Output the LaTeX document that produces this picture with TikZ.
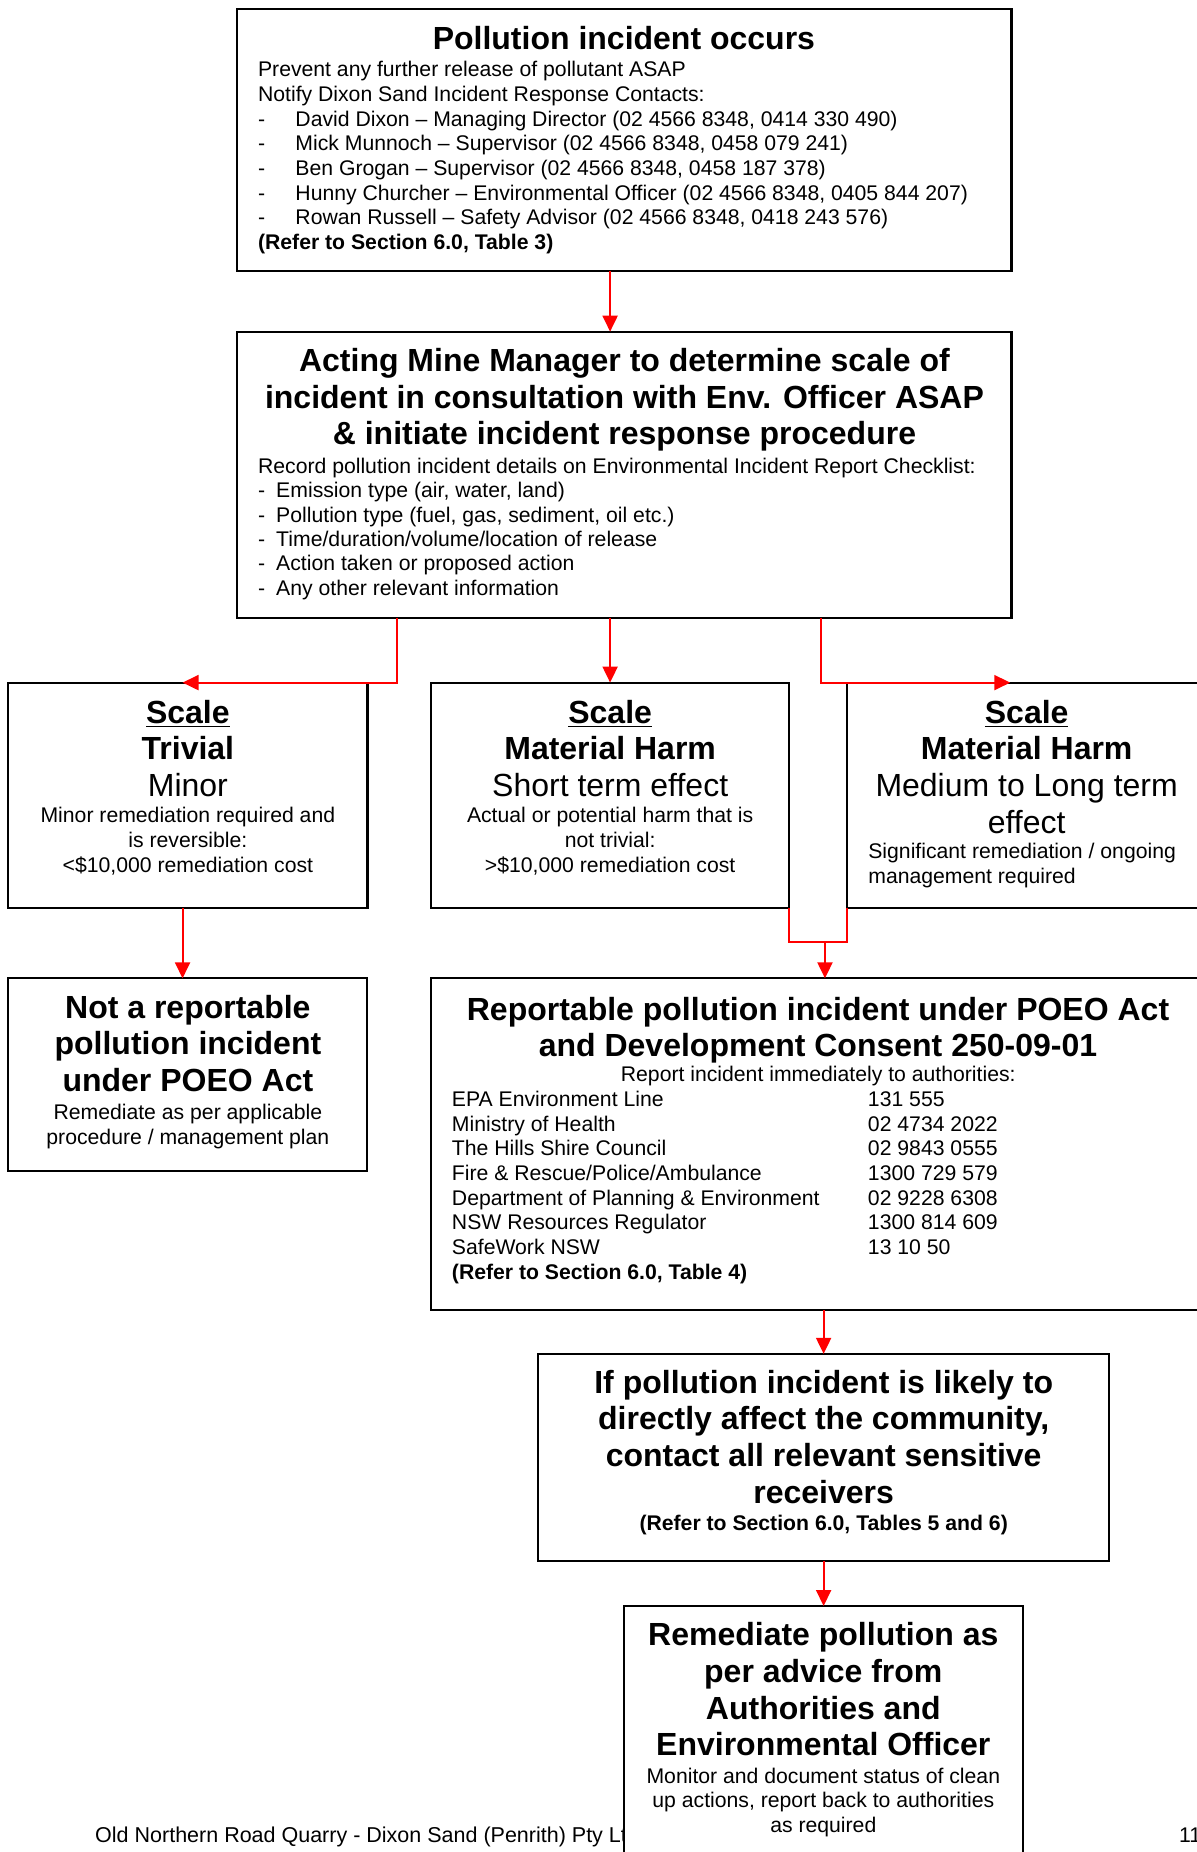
\documentclass[tikz,border=0pt]{standalone}
\usepackage{fontspec}
\setmainfont{Liberation Sans}
\usetikzlibrary{arrows.meta,fit}
\newcommand\fbody{\fontsize{10.6}{12.35}\selectfont}
\newcommand\fbodytight{\fontsize{10.6}{12.17}\selectfont}
\newcommand\fbig{\fontsize{16}{18.35}\selectfont}
\begin{document}
\begin{tikzpicture}[x=0.5908pt,y=-0.5908pt,
  box/.style={draw=black, line width=1.1pt, fill=white, inner sep=0pt, outer sep=0pt},
  con/.style={draw=red, line width=1pt},
  arr/.style={con, -{Triangle[length=8pt,width=7.5pt]}},
  body/.style={inner sep=0pt, outer sep=0pt, font=\fbody},
  big/.style={inner sep=0pt, outer sep=0pt, font=\fbig},
  title/.style={inner sep=0pt, outer sep=0pt, font=\fbig\bfseries}]
\useasboundingbox (0,0) rectangle (1013,1567.4);

% footer (partly hidden by the last box)
\node[body, anchor=base west, font=\fontsize{10.75}{12.35}\selectfont] (foot) at (80.6,1559.4) {Old Northern Road Quarry - Dixon Sand (Penrith) Pty Ltd};
\node[body, anchor=base west] (pnum) at (998,1559.4) {11};

% boxes
\node[box, fit={(200.3,7.9) (856,229.1)}] (b1) {};
\node[box, fit={(200.3,280.7) (856,522.7)}] (b2) {};
\node[box, fit={(7,577.7) (311,768.6)}] (b3) {};
\node[box, fit={(365,577.7) (667.7,768.6)}] (b4) {};
\node[box, fit={(717,577.7) (1020,768.6)}] (b5) {};
\node[box, fit={(7,828) (310.8,990.7)}] (b6) {};
\node[box, fit={(365,828) (1020,1108.7)}] (b7) {};
\node[box, fit={(455.4,1145.8) (938.7,1321)}] (b8) {};
\node[box, fit={(527.8,1359.2) (865.7,1600)}] (b9) {};

% (multi-line nodes are anchored at the baseline of their last line)
% box 1
\node[title, anchor=base] (t1) at (528,42.3) {Pollution incident occurs};
\node[body, anchor=base west, align=left] (t1b) at (218.4,211.2) {%
Prevent any further release of pollutant ASAP\\
Notify Dixon Sand Incident Response Contacts:\\
\makebox[18.7pt][l]{-}David Dixon – Managing Director (02 4566 8348, 0414 330 490)\\
\makebox[18.7pt][l]{-}Mick Munnoch – Supervisor (02 4566 8348, 0458 079 241)\\
\makebox[18.7pt][l]{-}Ben Grogan – Supervisor (02 4566 8348, 0458 187 378)\\
\makebox[18.7pt][l]{-}Hunny Churcher – Environmental Officer (02 4566 8348, 0405 844 207)\\
\makebox[18.7pt][l]{-}Rowan Russell – Safety Advisor (02 4566 8348, 0418 243 576)\\
\textbf{(Refer to Section 6.0, Table 3)}};

% box 2
\node[title, anchor=base, align=center] (t2) at (528.5,376.6) {Acting Mine Manager to determine scale of\\
incident in consultation with Env. Officer ASAP\\
\& initiate incident response procedure};
\node[body, anchor=base west, align=left, font=\fbodytight] (t2b) at (218.4,503.8) {%
Record pollution incident details on Environmental Incident Report Checklist:\\
\makebox[9.1pt][l]{-}Emission type (air, water, land)\\
\makebox[9.1pt][l]{-}Pollution type (fuel, gas, sediment, oil etc.)\\
\makebox[9.1pt][l]{-}Time/duration/volume/location of release\\
\makebox[9.1pt][l]{-}Action taken or proposed action\\
\makebox[9.1pt][l]{-}Any other relevant information};

% box 3
\node[big, anchor=base, align=center] (t3) at (159,674.2) {\textbf{\underline{Scale}}\\ \textbf{Trivial}\\ Minor};
\node[body, anchor=base, align=center] (t3b) at (159,738.3) {Minor remediation required and\\ is reversible:\\ <\$10,000 remediation cost};

% box 4
\node[big, anchor=base, align=center] (t4) at (516.4,674.2) {\textbf{\underline{Scale}}\\ \textbf{Material Harm}\\ Short term effect};
\node[body, anchor=base, align=center] (t4b) at (516.4,738.3) {Actual or potential harm that is\\ not trivial:\\ >\$10,000 remediation cost};

% box 5
\node[big, anchor=base, align=center] (t5) at (868.9,705.3) {\textbf{\underline{Scale}}\\ \textbf{Material Harm}\\ Medium to Long term\\ effect};
\node[body, anchor=base west, align=left] (t5b) at (734.9,747.6) {Significant remediation / ongoing\\ management required};

% box 6
\node[title, anchor=base, align=center] (t6) at (159,923.9) {Not a reportable\\ pollution incident\\ under POEO Act};
\node[body, anchor=base, align=center] (t6b) at (159,968.2) {Remediate as per applicable\\ procedure / management plan};

% box 7
\node[title, anchor=base, align=center] (t7) at (692.3,894.3) {Reportable pollution incident under POEO Act\\ and Development Consent 250-09-01};
\node[body, anchor=base] (t7s) at (692.5,915.4) {Report incident immediately to authorities:};
\node[body, anchor=base west, align=left] (t7l) at (382.5,1082.7) {EPA Environment Line\\ Ministry of Health\\ The Hills Shire Council\\ Fire \& Rescue/Police/Ambulance\\ Department of Planning \& Environment\\ NSW Resources Regulator\\ SafeWork NSW\\ \textbf{(Refer to Section 6.0, Table 4)}};
\node[body, anchor=base west, align=left] (t7r) at (734.6,1061.8) {131 555\\ 02 4734 2022\\ 02 9843 0555\\ 1300 729 579\\ 02 9228 6308\\ 1300 814 609\\ 13 10 50};

% box 8
\node[title, anchor=base, align=center] (t8) at (697.1,1272.2) {If pollution incident is likely to\\ directly affect the community,\\ contact all relevant sensitive\\ receivers};
\node[body, anchor=base, font=\fbody\bfseries] (t8b) at (697.1,1295.7) {(Refer to Section 6.0, Tables 5 and 6)};

% box 9
\node[title, anchor=base, align=center] (t9) at (696.8,1486.1) {Remediate pollution as\\ per advice from\\ Authorities and\\ Environmental Officer};
\node[body, anchor=base, align=center] (t9b) at (696.8,1550.8) {Monitor and document status of clean\\ up actions, report back to authorities\\ as required};

% connector points
\coordinate (jL) at (336,577.7);
\coordinate (jR) at (694.5,577.7);
\coordinate (tL) at (154.5,577.7);
\coordinate (tR) at (855,577.7);
\coordinate (jm) at (698.2,797.5);

% connectors
\draw[arr] (b1.south -| b4.north) -- (b2.north -| b4.north);
\draw[arr] (b2.south -| b4.north) -- (b4.north);
\draw[arr] (b2.south -| jL) -- (jL) -- (tL);
\draw[arr] (b2.south -| jR) -- (jR) -- (tR);
\draw[arr] (b3.south -| tL) -- (b6.north -| tL);
\draw[con] (b4.south east) -- (b4.south east |- jm) -- (b5.south west |- jm) -- (b5.south west);
\draw[arr] (jm) -- (jm |- b7.north);
\draw[arr] (b7.south -| b8.north) -- (b8.north);
\draw[arr] (b8.south) -- (b8.south |- b9.north);
\end{tikzpicture}
\end{document}
